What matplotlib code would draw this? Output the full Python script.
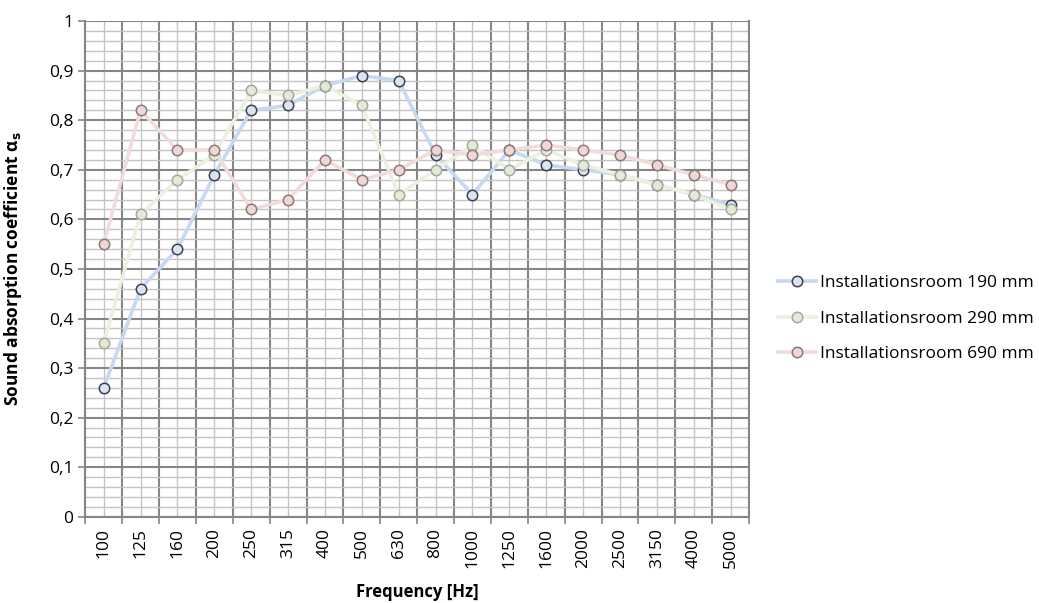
import matplotlib
matplotlib.use("Agg")
import matplotlib.pyplot as plt
import numpy as np

freqs = ["100", "125", "160", "200", "250", "315", "400", "500", "630",
         "800", "1000", "1250", "1600", "2000", "2500", "3150", "4000", "5000"]

room190 = [0.26, 0.46, 0.54, 0.69, 0.82, 0.83, 0.87, 0.89, 0.88,
           0.73, 0.65, 0.74, 0.71, 0.70, 0.69, 0.67, 0.65, 0.63]
room290 = [0.35, 0.61, 0.68, 0.73, 0.86, 0.85, 0.87, 0.83, 0.65,
           0.70, 0.75, 0.70, 0.74, 0.71, 0.69, 0.67, 0.65, 0.62]
room690 = [0.55, 0.82, 0.74, 0.74, 0.62, 0.64, 0.72, 0.68, 0.70,
           0.74, 0.73, 0.74, 0.75, 0.74, 0.73, 0.71, 0.69, 0.67]

labels = ["Installationsroom 190 mm", "Installationsroom 290 mm",
          "Installationsroom 690 mm"]

plt.rcParams['font.family'] = ['Open Sans', 'DejaVu Sans']

fig = plt.figure(figsize=(10.39, 6.03), dpi=100)
ax = fig.add_axes([0.082, 0.143, 0.639, 0.822])

x = np.arange(len(freqs))

styles = [
    ("#c6d9f1", "#dbe5f1", "#3f3f4f"),
    ("#ebf1de", "#e4ead5", "#a6a89e"),
    ("#f2dcdb", "#f0d6d5", "#8a7a7a"),
]
for vals, lab, (lc, fc, ec) in zip([room190, room290, room690], labels, styles):
    ax.plot(x, vals, color=lc, lw=2.6, marker="o", markersize=7.5,
            markerfacecolor=fc, markeredgecolor=ec, markeredgewidth=1.1,
            label=lab, zorder=3)

ax.set_xlim(-0.5, len(freqs) - 0.5)
ax.set_ylim(0, 1)

# category boundaries as major, centres carry labels
ax.set_xticks(np.arange(-0.5, len(freqs), 1.0))
ax.set_xticklabels([])
ax.set_xticks(x, minor=True)
ax.set_xticklabels(freqs, minor=True, rotation=90, fontsize=12.5)
ax.tick_params(axis="x", which="major", length=5, color="#868686", width=1.2)
ax.tick_params(axis="x", which="minor", length=0, pad=8)

ax.set_yticks(np.arange(0, 1.01, 0.1))
ax.set_yticklabels(["0"] + [("%.1f" % v).replace(".", ",") for v in np.arange(0.1, 0.95, 0.1)] + ["1"],
                   fontsize=12.5)
ax.set_yticks(np.arange(0, 1.001, 0.02), minor=True)
ax.tick_params(axis="y", which="major", length=5, color="#868686", width=1.2)
ax.tick_params(axis="y", which="minor", length=0)

ax.grid(which="major", color="#868686", lw=1.5, zorder=1)
ax.grid(which="minor", color="#c4c4c4", lw=1.0, zorder=0)

ax.spines["top"].set_visible(False)
for s in ["left", "bottom", "right"]:
    ax.spines[s].set_color("#868686")
    ax.spines[s].set_linewidth(1.5)

ax.set_xlabel("Frequency [Hz]", fontsize=12, fontweight="bold")
ax.xaxis.set_label_coords(0.5, -0.133)
ax.set_ylabel(r"Sound absorption coefficient α$_\mathbf{s}$", fontsize=12.5,
              fontweight="bold")
ax.yaxis.set_label_coords(-0.092, 0.5)

ax.legend(loc="center left", bbox_to_anchor=(1.02, 0.40), frameon=False,
          fontsize=12.5, handlelength=2.2, handletextpad=0.2, labelspacing=1.1)

fig.savefig("out.png", dpi=100)
